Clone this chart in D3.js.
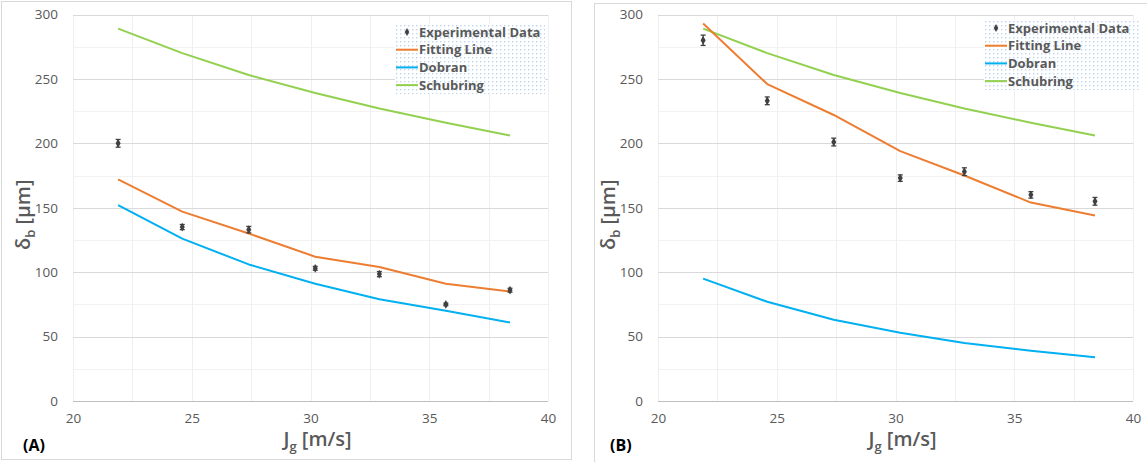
<!DOCTYPE html>
<html>
<head>
<meta charset="utf-8">
<script src="https://cdn.jsdelivr.net/npm/d3@7"></script>
<style>
  html, body { margin: 0; padding: 0; background: #fff; }
  svg { display: block; font-family: "Open Sans", "Noto Sans", sans-serif; }
</style>
</head>
<body>
<svg id="chart" width="1147" height="462"></svg>
<script>
// Gas superficial velocity (x) shared by every series
const jg = [21.9, 24.6, 27.4, 30.2, 32.9, 35.7, 38.4];

// Panel A
const expA = [200, 135, 133, 103, 98.5, 75, 86];
const errA = [3, 2, 2.5, 1.5, 2, 1, 1.5];
const fitA = [172, 147, 130, 112, 104, 91, 85];
const dobranA = [152, 126, 106, 91, 79, 70, 61];
const schubringA = [289, 270, 253, 239, 227, 216, 206];

// Panel B
const expB = [280, 233, 201, 173, 178, 160, 155];
const errB = [4, 3, 3, 2.5, 3, 2.5, 3];
const fitB = [293, 246, 222, 194, 175, 154, 144];
const dobranB = [95, 77, 63, 53, 45, 39, 34];
const schubringB = [289, 270, 253, 239, 227, 216, 206];

const xTicks = [20, 25, 30, 35, 40];
const yTicks = [0, 50, 100, 150, 200, 250, 300];
const legendLabels = ["Experimental Data", "Fitting Line", "Dobran", "Schubring"];

const colors = { fit: "#ED7D31", dobran: "#00B0F0", schubring: "#92D050", exp: "#404040" };

const svg = d3.select("#chart");

// dotted fill used behind the legend
const defs = svg.append("defs");
const pat = defs.append("pattern").attr("id", "dots")
  .attr("width", 4).attr("height", 4).attr("patternUnits", "userSpaceOnUse");
pat.append("rect").attr("width", 4).attr("height", 4).attr("fill", "#fff");
pat.append("rect").attr("x", 1).attr("y", 1).attr("width", 1.4).attr("height", 1.4).attr("fill", "#bcd5f0");

function panel(cfg) {
  const g = svg.append("g");
  // outer frame
  g.append("rect").attr("x", cfg.frame[0]).attr("y", cfg.frame[1])
    .attr("width", cfg.frame[2]).attr("height", cfg.frame[3])
    .attr("fill", "none").attr("stroke", "#d9d9d9").attr("stroke-width", 1);

  const x = d3.scaleLinear().domain([20, 40]).range([cfg.left, cfg.left + 475]);
  const y = d3.scaleLinear().domain([0, 300]).range([401, 14.5]);

  // minor grid
  const minorY = d3.range(25, 300, 50);
  g.selectAll(".my").data(minorY).join("line")
    .attr("x1", x(20)).attr("x2", x(40))
    .attr("y1", d => Math.round(y(d)) + 0.5).attr("y2", d => Math.round(y(d)) + 0.5)
    .attr("stroke", "#f2f2f2");
  const vGrid = d3.range(20, 40.01, 2.5);
  g.selectAll(".vx").data(vGrid).join("line")
    .attr("x1", d => Math.round(x(d)) + 0.5).attr("x2", d => Math.round(x(d)) + 0.5)
    .attr("y1", y(300)).attr("y2", y(0))
    .attr("stroke", "#efefef");
  // major horizontal grid
  g.selectAll(".my2").data(yTicks.slice(1)).join("line")
    .attr("x1", x(20)).attr("x2", x(40))
    .attr("y1", d => Math.round(y(d)) + 0.5).attr("y2", d => Math.round(y(d)) + 0.5)
    .attr("stroke", "#d9d9d9");
  // x axis baseline
  g.append("line").attr("x1", x(20)).attr("x2", x(40))
    .attr("y1", Math.round(y(0)) + 0.5).attr("y2", Math.round(y(0)) + 0.5)
    .attr("stroke", "#bfbfbf").attr("stroke-width", 1.2);

  // tick labels via d3 axes
  const yAxis = d3.axisLeft(y).tickValues(yTicks).tickSize(0).tickPadding(15);
  const ya = g.append("g").attr("transform", `translate(${x(20)},0)`).call(yAxis);
  ya.select(".domain").remove();
  ya.selectAll("text").attr("fill", "#595959").attr("font-size", 13.5)
    .attr("font-family", "'Open Sans', sans-serif");

  const xAxis = d3.axisBottom(x).tickValues(xTicks).tickSize(0).tickPadding(12);
  const xa = g.append("g").attr("transform", `translate(0,${y(0)})`).call(xAxis);
  xa.select(".domain").remove();
  xa.selectAll("text").attr("fill", "#595959").attr("font-size", 13.5)
    .attr("font-family", "'Open Sans', sans-serif");

  // axis titles
  const xt = g.append("text").attr("x", x(30) + 7).attr("y", 446)
    .attr("text-anchor", "middle").attr("fill", "#595959")
    .attr("font-size", 20).attr("font-weight", 600);
  xt.append("tspan").text("J");
  xt.append("tspan").attr("font-size", 13).attr("dy", 5).text("g");
  xt.append("tspan").attr("dy", -5).text(" [m/s]");

  const yt = g.append("text")
    .attr("transform", `translate(${cfg.left - 43},${y(150) + 7}) rotate(-90)`)
    .attr("text-anchor", "middle").attr("fill", "#595959")
    .attr("font-size", 20).attr("font-weight", 600);
  yt.append("tspan").text("δ");
  yt.append("tspan").attr("font-size", 13).attr("dy", 5).text("b");
  yt.append("tspan").attr("dy", -5).text(" [μm]");

  // panel tag
  g.append("text").attr("x", cfg.tagX).attr("y", 451)
    .attr("fill", "#000").attr("font-size", 16).attr("font-weight", 700)
    .text(cfg.tag);

  // model lines
  const line = d3.line().x((d, i) => x(jg[i])).y(d => y(d));
  [[cfg.schubring, colors.schubring], [cfg.dobran, colors.dobran], [cfg.fit, colors.fit]]
    .forEach(([data, c]) => {
      g.append("path").datum(data).attr("d", line)
        .attr("fill", "none").attr("stroke", c).attr("stroke-width", 2)
        .attr("stroke-linejoin", "round");
    });

  // experimental points with error bars
  const pts = g.append("g");
  cfg.exp.forEach((v, i) => {
    const cx = x(jg[i]);
    const e = cfg.err[i];
    pts.append("line").attr("x1", cx).attr("x2", cx).attr("y1", y(v + e)).attr("y2", y(v - e))
      .attr("stroke", colors.exp).attr("stroke-width", 1.3);
    [v + e, v - e].forEach(b => {
      pts.append("line").attr("x1", cx - 2.5).attr("x2", cx + 2.5).attr("y1", y(b)).attr("y2", y(b))
        .attr("stroke", colors.exp).attr("stroke-width", 1.3);
    });
    pts.append("path").attr("d", d3.symbol(d3.symbolDiamond, 22)())
      .attr("transform", `translate(${cx},${y(v)})`).attr("fill", colors.exp);
  });

  // legend
  const lg = g.append("g").attr("transform", `translate(${cfg.legend[0]},${cfg.legend[1]})`);
  lg.append("rect").attr("x", 0).attr("y", 0).attr("width", cfg.legend[2]).attr("height", 70)
    .attr("fill", "url(#dots)");
  const rowColors = [null, colors.fit, colors.dobran, colors.schubring];
  legendLabels.forEach((lab, i) => {
    const ry = 8 + i * 17.7;
    if (i === 0) {
      lg.append("path").attr("d", d3.symbol(d3.symbolDiamond, 18)())
        .attr("transform", `translate(12,${ry})`).attr("fill", colors.exp);
    } else {
      lg.append("line").attr("x1", 1).attr("x2", 23).attr("y1", ry).attr("y2", ry)
        .attr("stroke", rowColors[i]).attr("stroke-width", 2);
    }
    lg.append("text").attr("x", 24).attr("y", ry + 4.5)
      .attr("fill", "#595959").attr("font-size", 13).attr("font-weight", 700)
      .text(lab);
  });
}

panel({
  left: 73, frame: [1.5, 1.5, 570, 458], tag: "(A)", tagX: 23,
  exp: expA, err: errA, fit: fitA, dobran: dobranA, schubring: schubringA,
  legend: [395, 24, 150]
});
panel({
  left: 658, frame: [594.5, 3.5, 560, 470], tag: "(B)", tagX: 610,
  exp: expB, err: errB, fit: fitB, dobran: dobranB, schubring: schubringB,
  legend: [984, 20, 156]
});
</script>
</body>
</html>
